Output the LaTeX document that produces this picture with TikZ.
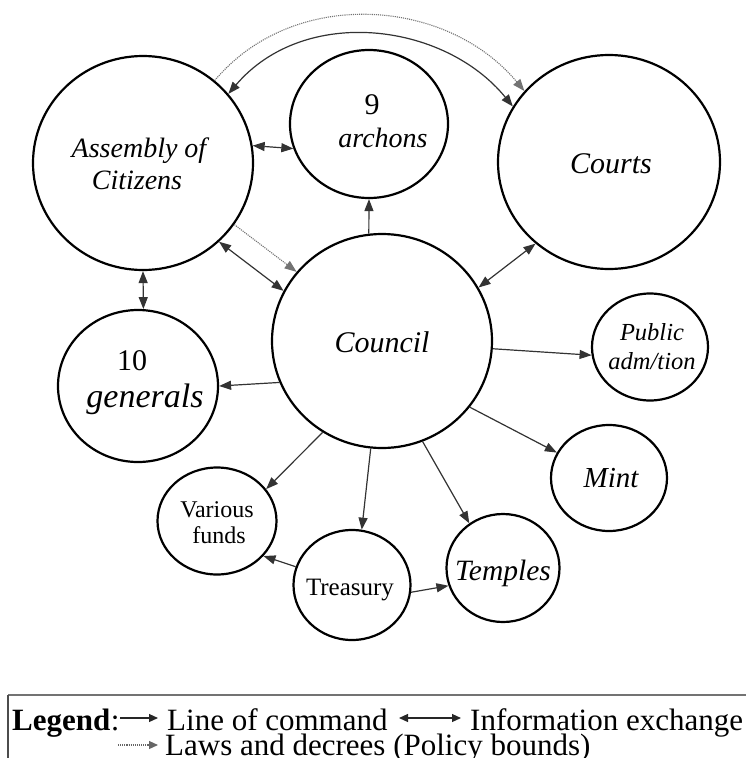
\documentclass[tikz,border=0pt]{standalone}
\usepackage{fontspec}
\setmainfont{Liberation Serif}
\usetikzlibrary{arrows.meta,shapes.geometric}
\begin{document}
\begin{tikzpicture}[x=1pt,y=-1pt,
  circ/.style={draw, line width=2.2pt, shape=ellipse, inner sep=0pt},
  lbl/.style={anchor=base, inner sep=0pt},
  tip/.tip={Triangle[length=12pt,width=9pt]},
  cmd/.style={draw=black!80, line width=1.2pt, -tip},
  info/.style={draw=black!80, line width=1.2pt, tip-tip},
  law/.style={draw=black!55, line width=1.1pt, densely dotted, -tip},
  ltip/.tip={Triangle[length=9pt,width=8pt]},
]
\useasboundingbox (0,0) rectangle (746,758);

% circles
\node[circ, minimum width=220pt, minimum height=214pt] (asm) at (143,163) {};
\node[circ, minimum width=158pt, minimum height=148pt] (arch) at (369,124) {};
\node[circ, minimum width=222pt, minimum height=214pt] (courts) at (609,162) {};
\node[circ, minimum width=220pt, minimum height=214pt] (council) at (382,341) {};
\node[circ, minimum width=160pt, minimum height=152pt] (gen) at (138,386) {};
\node[circ, minimum width=116pt, minimum height=107pt] (pub) at (650,347) {};
\node[circ, minimum width=116pt, minimum height=106pt] (mint) at (609,478) {};
\node[circ, minimum width=119pt, minimum height=107pt] (funds) at (217,521) {};
\node[circ, minimum width=117pt, minimum height=110pt] (treas) at (352,585) {};
\node[circ, minimum width=113pt, minimum height=108pt] (temp) at (503,568) {};

% texts
\node[lbl, font=\fontsize{28}{32}\selectfont\itshape] (asmT1) at (139,157) {Assembly of};
\node[lbl, font=\fontsize{28}{32}\selectfont\itshape] (asmT2) at (137,189) {Citizens};
\node[lbl, font=\fontsize{30}{32}\selectfont] (archT1) at (372,114) {9};
\node[lbl, font=\fontsize{28}{32}\selectfont\itshape] (archT2) at (383,147) {archons};
\node[lbl, font=\fontsize{30}{32}\selectfont\itshape] (courtsT) at (611,173) {Courts};
\node[lbl, font=\fontsize{30}{32}\selectfont\itshape] (councilT) at (382,352) {Council};
\node[lbl, font=\fontsize{30}{32}\selectfont] (genT1) at (132,370) {10};
\node[lbl, font=\fontsize{34}{36}\selectfont\itshape] (genT2) at (145,407) {generals};
\node[lbl, font=\fontsize{24.5}{28}\selectfont\itshape] (pubT1) at (652,340) {Public};
\node[lbl, font=\fontsize{24.5}{28}\selectfont\itshape] (pubT2) at (652,369) {adm/tion};
\node[lbl, font=\fontsize{29}{32}\selectfont\itshape] (mintT) at (611,487) {Mint};
\node[lbl, font=\fontsize{29.5}{32}\selectfont\itshape] (tempT) at (503,580) {Temples};
\node[lbl, font=\fontsize{24}{26}\selectfont] (fundsT1) at (217,517) {Various};
\node[lbl, font=\fontsize{24}{26}\selectfont] (fundsT2) at (219,543) {funds};
\node[lbl, font=\fontsize{25}{26}\selectfont] (treasT) at (350,595) {Treasury};

% connectors
\draw[info] (asm.9) -- (arch.198);
\draw[info] (asm.39) .. controls (304,5) and (444,22) .. (courts.150);
\draw[law] (asm.49) .. controls (293,-13) and (446,-3) .. (courts.140);
\draw[law] (asm.-34) -- (council.141);
\draw[info] (asm.-46) -- (council.153);
\draw[info] (asm.south) -- (gen.86);
\draw[cmd] (council.97) -- (arch.south);
\draw[info] (council.29) -- (courts.-132);
\draw[cmd] (council.-4) -- (pub.-172);
\draw[cmd] (council.-37) -- (mint.154);
\draw[cmd] (council.202) -- (gen.east);
\draw[cmd] (council.-123) -- (funds.33);
\draw[cmd] (council.-96) -- (treas.80);
\draw[cmd] (council.-68) -- (temp.127);
\draw[cmd] (treas.162) -- (funds.-37);
\draw[cmd] (treas.-7) -- (temp.-162);

% legend
\draw[black!55, line width=2pt] (8,695) -- (746,695);
\draw[black!70, line width=1.2pt] (8,695) -- (8,760);
\node[anchor=base west, inner sep=0pt, font=\fontsize{31}{31}\selectfont\bfseries] (legT) at (12,730) {Legend};
\node[anchor=base west, inner sep=0pt, font=\fontsize{31}{31}\selectfont] (colonT) at (legT.base east) {:};
\coordinate (la1) at (120,718);
\coordinate (la2) at (158,718);
\node[anchor=base west, inner sep=0pt, font=\fontsize{31}{31}\selectfont] (cmdT) at (167,730) {Line of command};
\coordinate (lb1) at (399,718);
\coordinate (lb2) at (461,718);
\node[anchor=base west, inner sep=0pt, font=\fontsize{31}{31}\selectfont] (infoT) at (470,730) {Information exchange};
\coordinate (lc1) at (118,745);
\coordinate (lc2) at (158,745);
\node[anchor=base west, inner sep=0pt, font=\fontsize{31}{31}\selectfont] (lawT) at (165,755) {Laws and decrees (Policy bounds)};
\draw[black!85, line width=1.2pt, -ltip] (la1) -- (la2);
\draw[black!85, line width=1.2pt, ltip-ltip] (lb1) -- (lb2);
\draw[black!60, line width=1.1pt, densely dotted, -ltip] (lc1) -- (lc2);
\end{tikzpicture}
\end{document}
